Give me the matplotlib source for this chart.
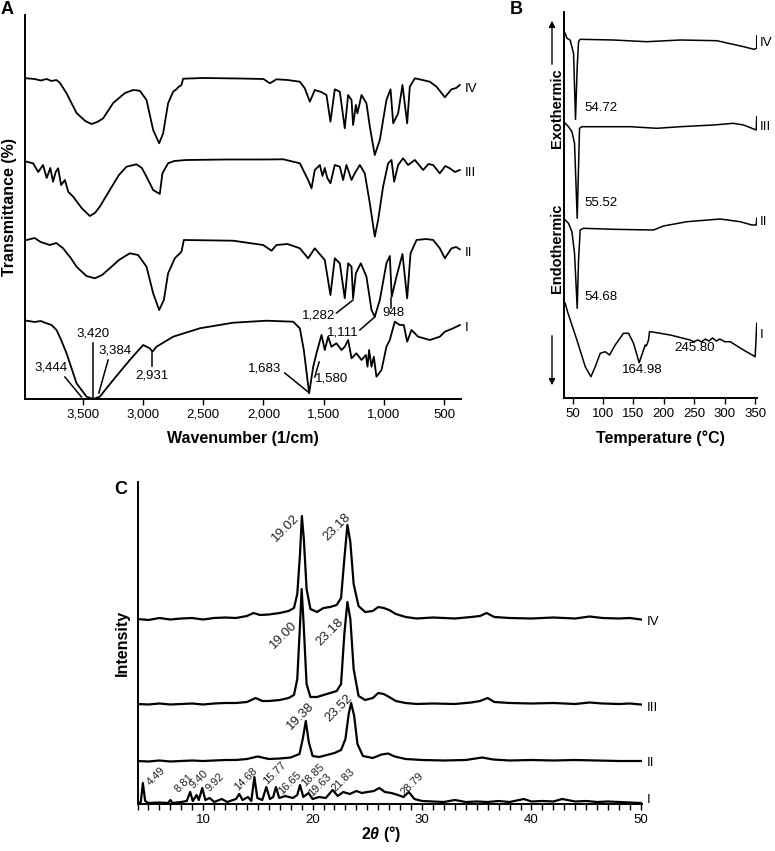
import matplotlib
matplotlib.use('Agg')
import matplotlib.pyplot as plt
from matplotlib.ticker import FuncFormatter, MultipleLocator
from matplotlib.patches import FancyArrowPatch

plt.rcParams['font.family'] = ['Liberation Sans', 'DejaVu Sans']
plt.rcParams['mathtext.fontset'] = 'custom'
plt.rcParams['mathtext.bf'] = 'Liberation Sans:bold'
plt.rcParams['mathtext.bfit'] = 'Liberation Sans:italic:bold'

# ---------------- A: FTIR (wavenumber 1/cm, transmittance a.u.) ----------------
ftir_iv_wn = [3967, 3900, 3850, 3800, 3760, 3720, 3691, 3635, 3552, 3480, 3428, 3380, 3331, 3248, 3150,
              3082, 3027, 2971, 2916, 2866, 2833, 2792, 2750, 2720, 2709, 2681, 2667, 2500, 2200, 2000,
              1947, 1892, 1800, 1698, 1657, 1615, 1574, 1520, 1477, 1444, 1408, 1366, 1325, 1297, 1269,
              1256, 1233, 1220, 1186, 1145, 1117, 1076, 1034, 979, 945, 923, 882, 846, 807, 785,
              743, 680, 619, 563, 494, 439, 400, 370]
ftir_iv_t = [320.7, 320, 318.5, 320, 318, 319, 316.3, 305.7, 286, 278, 275, 277, 280.7, 296, 306,
             309, 308.3, 299, 269, 255.7, 265.7, 295.7, 307.3, 310, 311.7, 314, 320.3, 321, 320.5, 320,
             315.7, 319.7, 319, 317.3, 310.7, 297.3, 309, 307, 304, 277.3, 309.7, 307.3, 270.7, 304, 299,
             274, 294, 285.7, 304, 295.7, 272.3, 244, 259, 299, 309.7, 275.7, 285.7, 314, 275.7, 312.3,
             320.7, 319, 317.3, 312.3, 301.7, 309.7, 311, 314]

ftir_iii_wn = [3967, 3913, 3870, 3830, 3800, 3770, 3747, 3725, 3705, 3680, 3649, 3620, 3580, 3510, 3442,
               3400, 3359, 3276, 3200, 3137, 3054, 3010, 2971, 2916, 2861, 2839, 2792, 2740, 2640, 2300,
               2000, 1836, 1698, 1629, 1601, 1574, 1532, 1510, 1491, 1470, 1444, 1408, 1366, 1339, 1311,
               1269, 1242, 1200, 1159, 1117, 1076, 1048, 1007, 965, 937, 915, 882, 841, 799, 743,
               674, 630, 591, 536, 490, 453, 410, 370]
ftir_iii_t = [237.3, 235.7, 227, 234, 221, 231, 217.3, 227, 230.7, 214, 219, 207, 202.3, 191, 183,
              186, 192.3, 209, 224, 232.3, 234.7, 231, 222.3, 209, 205, 225.7, 235.7, 238, 239, 239.5,
              239.5, 239.7, 235.7, 219, 210.7, 229, 234, 223, 231, 221, 215.7, 234, 232.3, 219, 234,
              219, 225.7, 234, 225.7, 195.7, 162.3, 179, 212.3, 235.7, 239, 217.3, 234, 240.7, 234, 239,
              229, 235, 234, 225.7, 233, 230.7, 227, 229]

ftir_ii_wn = [3967, 3900, 3850, 3774, 3720, 3664, 3600, 3552, 3470, 3400, 3340, 3276, 3200, 3110, 3041,
              2971, 2916, 2866, 2827, 2792, 2736, 2681, 2661, 2252, 2003, 1933, 1892, 1800, 1698, 1629,
              1574, 1491, 1444, 1408, 1366, 1325, 1297, 1269, 1256, 1233, 1192, 1145, 1103, 1076, 1034,
              979, 951, 935, 896, 846, 807, 779, 729, 650, 591, 536, 494, 439, 400, 370]
ftir_ii_t = [159, 161, 157, 154, 156, 150.7, 141, 132.3, 123, 120.7, 124, 130.7, 139, 145.7, 144,
             132.3, 105.7, 89, 99, 125.7, 140.7, 147.3, 159, 158.3, 154, 148.3, 154, 155, 150.7, 140.7,
             150.7, 139, 104, 140.7, 135.7, 100.7, 135.7, 132.3, 100.7, 125.7, 135.7, 122.3, 89, 82.3, 99,
             135.7, 143, 102.3, 122.3, 145, 100.7, 145.7, 159, 160, 159, 150.7, 140.7, 150.7, 152, 149.7]

ftir_i_wn = [3967, 3900, 3850, 3801, 3760, 3718, 3680, 3635, 3552, 3469, 3414, 3359, 3248, 3110, 2999,
             2944, 2922, 2888, 2750, 2529, 2252, 1975, 1754, 1698, 1665, 1621, 1587, 1560, 1518, 1491,
             1463, 1436, 1394, 1352, 1325, 1297, 1269, 1228, 1186, 1150, 1136, 1123, 1103, 1084, 1062,
             1020, 979, 951, 910, 868, 835, 807, 771, 716, 619, 536, 494, 425, 370]
ftir_i_t = [78.3, 77, 78, 75.7, 74, 69, 59, 45.7, 15.7, 2.3, 0, 2.3, 19, 39, 54,
            50.7, 47.3, 52.3, 62.3, 70.7, 76.3, 78.3, 77.3, 70.7, 49, 5.7, 32.3, 45.7, 64, 49,
            62.3, 52.3, 55.7, 49, 52.3, 59, 40.7, 45.7, 39, 44, 32.3, 49, 32.3, 42.3, 22.3,
            29, 52.3, 59, 77.3, 74, 74, 57.3, 69, 62.3, 59, 62.3, 67.3, 70.7, 74]

ftir_ticks = [3500, 3000, 2500, 2000, 1500, 1000, 500]

# ---------------- B: DSC (temperature C, heat flow a.u.) ----------------
dsc_iv_temp = [38, 40.8, 46, 51.7, 54.9, 57.7, 59.9, 62.6, 117, 172, 227, 287, 331, 348, 352.5, 352.6]
dsc_iv_flow = [364.7, 359.7, 358, 344.7, 278.7, 331.3, 356.3, 358.7, 358, 356.3, 358, 357.3, 351.3, 348.7, 349.7, 362]

dsc_iii_temp = [38, 43.4, 49, 53.3, 57.7, 59.9, 61.5, 65.4, 145, 188.6, 227, 281.5, 314, 331, 344.6, 351.7, 352.6]
dsc_iii_flow = [274.7, 271.3, 266.3, 254.7, 179.7, 231.3, 269.7, 271.3, 271.3, 269.7, 271.3, 273, 274.7, 273,
                269.7, 268, 281.3]

dsc_ii_temp = [38, 43.4, 49, 53.3, 57.7, 59.9, 62.6, 68, 117, 183, 199.4, 238, 292.5, 325.4, 344.6, 351.7, 352.6]
dsc_ii_flow = [178, 174.7, 166.3, 144.7, 89.7, 138, 168, 169.7, 168.7, 168, 172, 176.3, 179, 176.3, 173, 173, 179.7]

dsc_i_temp = [38, 41.8, 57.2, 70.9, 80.2, 87.3, 95.5, 103.7, 110.8, 120.1, 133.7, 142, 150.2, 159.5, 166.6,
              169.4, 171, 173, 174.8, 176.4, 178.7, 210.4, 243, 248.7, 256, 262, 268, 274, 280, 286,
              292, 300, 309, 330.8, 350, 352.6]
dsc_i_flow = [94.7, 86.3, 58, 31.3, 21.3, 31.3, 44.7, 46.3, 43, 53, 64.7, 64.7, 54.7, 35.3, 48,
              53, 52, 54.7, 58, 66.3, 66.3, 63, 58, 56.3, 58, 56, 59, 57, 60, 57,
              59, 56.3, 56.3, 48, 41.3, 74.7]

dsc_ticks = [50, 100, 150, 200, 250, 300, 350]

# ---------------- C: XRD (2theta deg, intensity a.u.) ----------------
xrd_iv_2t = [4, 5, 6, 7, 8, 9, 10, 11, 12, 13, 14, 14.6, 15.2, 16, 17, 17.8, 18.3, 18.6, 18.85, 19.02,
             19.2, 19.45, 19.8, 20.4, 21, 21.6, 22.2, 22.6, 22.9, 23.18, 23.45, 23.75, 24.2, 24.8, 25.5,
             26.0, 26.5, 27.0, 27.6, 28.5, 29.5, 31, 33, 34.5, 35.3, 35.9, 36.6, 38, 40, 42,
             44, 45.3, 46.5, 48, 49, 50]
xrd_iv_int = [185, 184, 186, 184.5, 185.5, 186, 184.5, 186, 186.5, 186, 188, 191, 189, 189.5, 191, 193,
              196, 210, 250, 288, 265, 215, 195, 192, 196, 197, 199, 206, 245, 279, 262, 220, 198, 192,
              193, 197, 196, 194, 190, 187, 185.5, 186.5, 185.5, 187, 188, 191, 187, 186, 185.5, 186.5,
              185.5, 187.5, 186, 185.5, 186, 184.5]

xrd_iii_2t = [4, 5, 6, 7, 8, 9, 10, 11, 12, 13, 14, 14.8, 15.4, 16, 17, 17.8, 18.3, 18.6, 18.83, 19.0,
              19.18, 19.45, 19.8, 20.4, 21, 21.6, 22.2, 22.6, 22.9, 23.18, 23.45, 23.75, 24.2, 24.8, 25.5,
              26.0, 26.5, 27.0, 27.6, 28.5, 29.5, 31, 33, 34.5, 35.3, 36.0, 36.6, 38, 40, 42,
              44, 45.3, 46.5, 48, 49, 50]
xrd_iii_int = [100, 99.5, 100.5, 99.5, 100, 100.5, 99.5, 100.5, 101, 101, 102, 106, 103, 103, 104, 106,
               109, 125, 175, 215, 180, 120, 107, 107, 109, 111, 113, 120, 170, 202, 185, 135, 108, 104,
               106, 111, 110, 107, 103, 101, 100, 100.5, 100, 101.5, 103, 106, 102, 101, 100.5, 101,
               100, 101.5, 100.5, 100, 100.5, 99.5]

xrd_ii_2t = [4, 5, 6, 7, 8, 9, 10, 11, 12, 13, 14, 15, 16, 17, 18, 18.8, 19.1, 19.38, 19.65, 20,
             20.6, 21.3, 22, 22.6, 23.0, 23.3, 23.52, 23.8, 24.1, 24.6, 25.5, 26.3, 26.9, 27.5, 28.5,
             30, 32, 34, 35.5, 36.5, 38, 40, 42, 44, 46, 48, 50]
xrd_ii_int = [43, 42.5, 43.5, 42.5, 43, 43.5, 43, 43.5, 44, 44, 45, 47.5, 45, 45.5, 46.5, 50, 65, 83, 62, 48,
              47, 49, 51, 54, 65, 90, 101, 88, 60, 48, 46, 49.5, 50.5, 47.5, 45, 44, 43.5, 44, 46.5, 44.5,
              43.5, 44, 43.5, 44, 43.5, 43, 43]

xrd_i_2t = [4.1, 4.3, 4.49, 4.7, 5, 6, 6.8, 7.0, 7.2, 8, 8.5, 8.81, 9.05, 9.4, 9.6, 9.92, 10.2, 10.6, 11,
            11.7, 12.2, 13, 13.3, 13.6, 14.1, 14.4, 14.68, 14.95, 15.4, 15.77, 16.1, 16.4, 16.65, 16.95,
            17.5, 18.2, 18.6, 18.85, 19.15, 19.63, 20.0, 20.6, 21.2, 21.83, 22.3, 22.8, 23.4, 24.0, 24.5,
            25.0, 25.6, 26.1, 26.6, 27.2, 27.8, 28.3, 28.79, 29.3, 30, 31, 32, 33, 34, 35, 36, 37, 38,
            39.3, 40, 41, 42, 42.8, 44, 45, 46, 47, 48, 49, 50]
xrd_i_int = [1, 2, 21, 3, 1, 1.5, 1, 4, 1, 2, 3, 12, 3, 9, 4, 16, 4, 6, 2,
             5, 2, 5, 10, 4, 7, 3, 27, 6, 4, 17, 5, 7, 17, 6,
             8, 6, 9, 19, 7, 11, 5, 7, 6, 14, 8, 12, 10, 13, 11,
             12, 13, 16, 12, 11, 9, 7, 12, 5, 3, 2.5, 2, 4, 2, 2.5, 2, 3, 2,
             5, 2.5, 3, 2.5, 5, 2.5, 3, 2, 2.5, 2, 1.5, 1]

xrd_ticks = [10, 20, 30, 40, 50]
sample_names = ['I', 'II', 'III', 'IV']

# ------------------------------------------------------------------
W, H = 775, 851
fig = plt.figure(figsize=(W / 100, H / 100), dpi=100)


def rect(l, t, r, b):
    return [l / W, 1 - b / H, (r - l) / W, (b - t) / H]


def style(ax):
    for s in ['top', 'right']:
        ax.spines[s].set_visible(False)
    for s in ['left', 'bottom']:
        ax.spines[s].set_linewidth(1.4)
    ax.set_yticks([])
    ax.tick_params(axis='x', which='both', direction='out', length=4, width=1,
                   labelsize=9.5, pad=3)


def ftext(px, py, s, **kw):
    fig.text(px / W, 1 - py / H, s, ha='center', va='center', **kw)


# panel A
axA = fig.add_axes(rect(25, 15, 461, 399))
style(axA)
for wn, t in [(ftir_iv_wn, ftir_iv_t), (ftir_iii_wn, ftir_iii_t),
              (ftir_ii_wn, ftir_ii_t), (ftir_i_wn, ftir_i_t)]:
    axA.plot(wn, t, color='black', lw=1.3)
axA.set_xlim(3980, 360)
axA.set_ylim(0, 384)
axA.set_xticks(ftir_ticks)
axA.xaxis.set_major_formatter(FuncFormatter(lambda v, p: f'{int(v):,}'))

ftir_notes = [('3,444', (3760, 32), (3649, 22), (3511, 2)),
              ('3,420', (3414, 66), (3414, 56), (3414, 1)),
              ('3,384', (3234, 49), (3290, 39), (3367, 6)),
              ('2,931', (2930, 24), (2922, 46), (2922, 33)),
              ('1,683', (1989, 31), (1823, 26), (1629, 7)),
              ('1,580', (1435, 21), (1574, 22), (1538, 37)),
              ('1,282', (1546, 84), (1394, 86), (1256, 99)),
              ('1,111', (1339, 67), (1200, 69), (1076, 82)),
              ('948', (924, 86), (945, 91), (945, 101))]
for lab, txy, p0, p1 in ftir_notes:
    axA.text(txy[0], txy[1], lab, ha='center', va='center', fontsize=9.5)
    axA.plot([p0[0], p1[0]], [p0[1], p1[1]], color='black', lw=1.1)
for name, yy in zip(sample_names, [71, 146, 226, 310]):
    axA.text(330, yy, name, ha='left', va='center', fontsize=9.5, clip_on=False)

ftext(9.5, 207, 'Transmittance (%)', rotation=90, fontsize=11.5, fontweight='bold')
ftext(243, 438, 'Wavenumber (1/cm)', fontsize=11.5, fontweight='bold')

# panel B
axB = fig.add_axes(rect(564, 12, 757, 398))
style(axB)
for tt, hf in [(dsc_iv_temp, dsc_iv_flow), (dsc_iii_temp, dsc_iii_flow),
               (dsc_ii_temp, dsc_ii_flow), (dsc_i_temp, dsc_i_flow)]:
    axB.plot(tt, hf, color='black', lw=1.1)
axB.set_xlim(36, 353)
axB.set_ylim(0, 386)
axB.set_xticks(dsc_ticks)

dsc_notes = [('54.72', 96, 290), ('55.52', 96, 195), ('54.68', 96, 101),
             ('164.98', 164, 28), ('245.80', 250, 50)]
for lab, x, y in dsc_notes:
    axB.text(x, y, lab, ha='center', va='center', fontsize=9.5)
for name, yy in zip(sample_names, [63, 176, 271, 355]):
    axB.text(357, yy, name, ha='left', va='center', fontsize=9.5, clip_on=False)

ftext(557, 108, 'Exothermic', rotation=90, fontsize=10.5, fontweight='bold')
ftext(557, 248, 'Endothermic', rotation=90, fontsize=10.5, fontweight='bold')
for y0, y1 in [(67, 18), (333, 388)]:
    fig.add_artist(FancyArrowPatch((552 / W, 1 - y0 / H), (552 / W, 1 - y1 / H),
                                   transform=fig.transFigure, arrowstyle='-|>',
                                   mutation_scale=9, lw=1, color='black'))
ftext(660, 438, 'Temperature (°C)', fontsize=11.5, fontweight='bold')

# panel C
axC = fig.add_axes(rect(137.5, 482, 642, 804))
style(axC)
for tt, ii in [(xrd_iv_2t, xrd_iv_int), (xrd_iii_2t, xrd_iii_int),
               (xrd_ii_2t, xrd_ii_int), (xrd_i_2t, xrd_i_int)]:
    axC.plot(tt, ii, color='black', lw=1.6)
axC.set_xlim(4, 50.1)
axC.set_ylim(0, 322)
axC.set_xticks(xrd_ticks)
axC.xaxis.set_minor_locator(MultipleLocator(1))

xrd_notes = [('19.02', 17.52, 276, 9.5), ('23.18', 22.25, 277, 9.5),
             ('19.00', 17.39, 169, 9.5), ('23.18', 21.6, 172, 9.5),
             ('19.38', 18.87, 88, 9.5), ('23.52', 22.43, 96, 9.5),
             ('4.49', 5.69, 28, 8), ('8.81', 8.25, 21, 8), ('9.40', 9.6, 25, 8),
             ('9.92', 11.09, 22, 8), ('14.68', 13.9, 25, 8), ('15.77', 16.58, 31, 8),
             ('16.65', 17.95, 21, 8), ('18.85', 19.99, 29, 8), ('19.63', 20.7, 19, 8),
             ('21.83', 22.83, 24, 8), ('28.79', 29.11, 20, 8)]
for lab, x, y, fs in xrd_notes:
    axC.text(x, y, lab, ha='center', va='center', fontsize=fs, rotation=45,
             rotation_mode='anchor', color='#222222')
for name, yy in zip(sample_names, [4, 41, 96, 182]):
    axC.text(50.5, yy, name, ha='left', va='center', fontsize=9.5, clip_on=False)

ftext(122.5, 643, 'Intensity', rotation=90, fontsize=11.5, fontweight='bold')
ftext(381, 834, r'2$\mathbfit{\theta}$ (°)', fontsize=11.5, fontweight='bold')

ftext(7.5, 9, 'A', fontsize=13, fontweight='bold')
ftext(516, 9, 'B', fontsize=13, fontweight='bold')
ftext(121, 489, 'C', fontsize=13, fontweight='bold')

fig.savefig('out.png', dpi=100)
